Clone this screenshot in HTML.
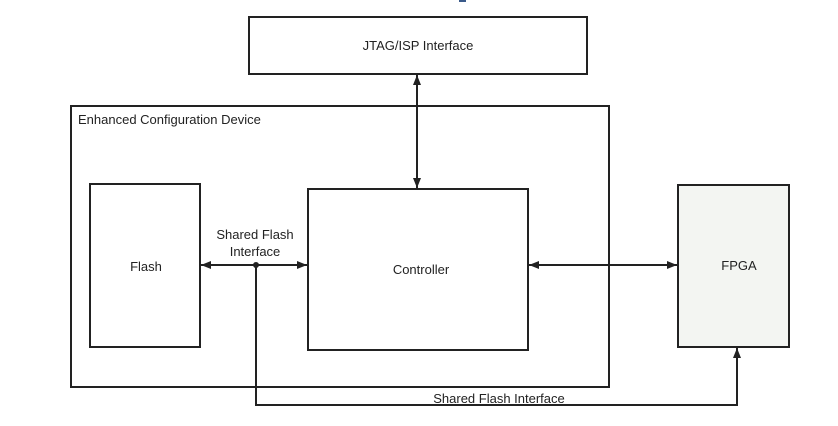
<!DOCTYPE html>
<html><head><style>body{margin:0;background:#fff}</style></head><body>
<svg width="838" height="421" xmlns="http://www.w3.org/2000/svg" font-family="Liberation Sans, sans-serif" font-size="13" fill="#222">
<defs><marker id="a" markerWidth="10" markerHeight="8" refX="10" refY="4" orient="auto-start-reverse" markerUnits="userSpaceOnUse"><path d="M0,0 L10,4 L0,8 z" fill="#222"/></marker></defs>
<rect x="459" y="0" width="7" height="2" fill="#3a5a8a"/>
<g fill="none" stroke="#222" stroke-width="2">
<rect x="249" y="17" width="338" height="57"/>
<rect x="71" y="106" width="538" height="281"/>
<rect x="90" y="184" width="110" height="163"/>
<rect x="308" y="189" width="220" height="161"/>
<rect x="678" y="185" width="111" height="162" fill="#f3f5f2"/>
<line x1="417" y1="75" x2="417" y2="188" marker-start="url(#a)" marker-end="url(#a)"/>
<line x1="201" y1="265" x2="307" y2="265" marker-start="url(#a)" marker-end="url(#a)"/>
<line x1="529" y1="265" x2="677" y2="265" marker-start="url(#a)" marker-end="url(#a)"/>
<polyline points="256,265 256,405 737,405 737,348" marker-end="url(#a)"/>
</g>
<circle cx="256" cy="265" r="3" fill="#222"/>
<text x="418" y="50" text-anchor="middle">JTAG/ISP Interface</text>
<text x="78" y="124">Enhanced Configuration Device</text>
<text x="146" y="271" text-anchor="middle">Flash</text>
<text x="255" y="239" text-anchor="middle">Shared Flash</text>
<text x="255" y="256" text-anchor="middle">Interface</text>
<text x="421" y="274" text-anchor="middle">Controller</text>
<text x="739" y="270" text-anchor="middle">FPGA</text>
<text x="499" y="403" text-anchor="middle">Shared Flash Interface</text>
</svg>
</body></html>
